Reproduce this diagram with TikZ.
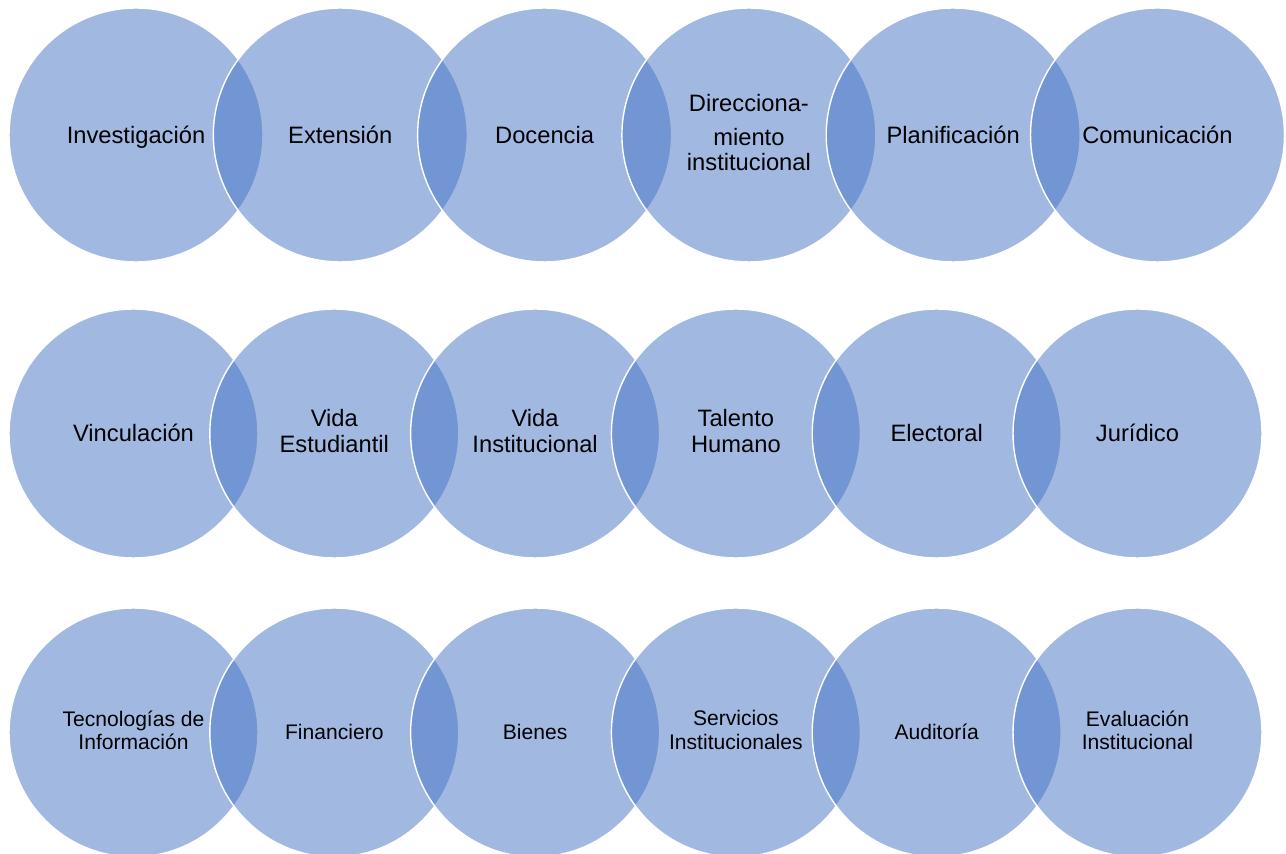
\documentclass[tikz,border=0pt]{standalone}
\usepackage{fontspec}
\setmainfont{Liberation Sans}
\usepackage{xcolor}
\usetikzlibrary{positioning}
\definecolor{venblue}{HTML}{4472C4}
\tikzset{
  proc/.style={circle, draw=white, line width=0.8pt, fill=venblue,
    fill opacity=0.5, text opacity=1, align=center, inner sep=0pt,
    execute at begin node={\rule{0pt}{0.905em}},
    execute at end node={\rule[-0.212em]{0pt}{0.212em}}},
  bigproc/.style={proc, minimum size=5.08cm, font=\fontsize{13.5}{14.5}\selectfont},
  midproc/.style={proc, minimum size=4.98cm, font=\fontsize{13.5}{14.8}\selectfont},
  smallproc/.style={proc, minimum size=4.98cm, font=\fontsize{12}{13.6}\selectfont},
}

\begin{document}
\begin{tikzpicture}[x=0.02cm, y=-0.02cm]
    \useasboundingbox (0,0) rectangle (1286,854);

    % Row 1
    \foreach \nm/\lbl [count=\i from 0] in {invest/Investigación, exten/Extensión,
        docen/Docencia, direc/Direcciona-\\[5pt]miento\\institucional,
        plani/Planificación, comun/Comunicación}
        \node[bigproc] (\nm) at ({136+204.3*\i},135) {\lbl};

    % Row 2
    \foreach \nm/\lbl [count=\i from 0] in {vincu/Vinculación, vidaest/Vida\\Estudiantil,
        vidainst/Vida\\Institucional, talen/Talento\\Humano,
        elect/Electoral, jurid/Jurídico}
        \node[midproc] (\nm) at ({133.5+200.8*\i},433.5) {\lbl};

    % Row 3
    \foreach \nm/\lbl [count=\i from 0] in {tecno/Tecnologías de\\Información, finan/Financiero,
        biene/Bienes, servi/Servicios\\Institucionales,
        audit/Auditoría, evalu/Evaluación\\Institucional}
        \node[smallproc] (\nm) at ({133.5+200.8*\i},732.5) {\lbl};
\end{tikzpicture}
\end{document}
